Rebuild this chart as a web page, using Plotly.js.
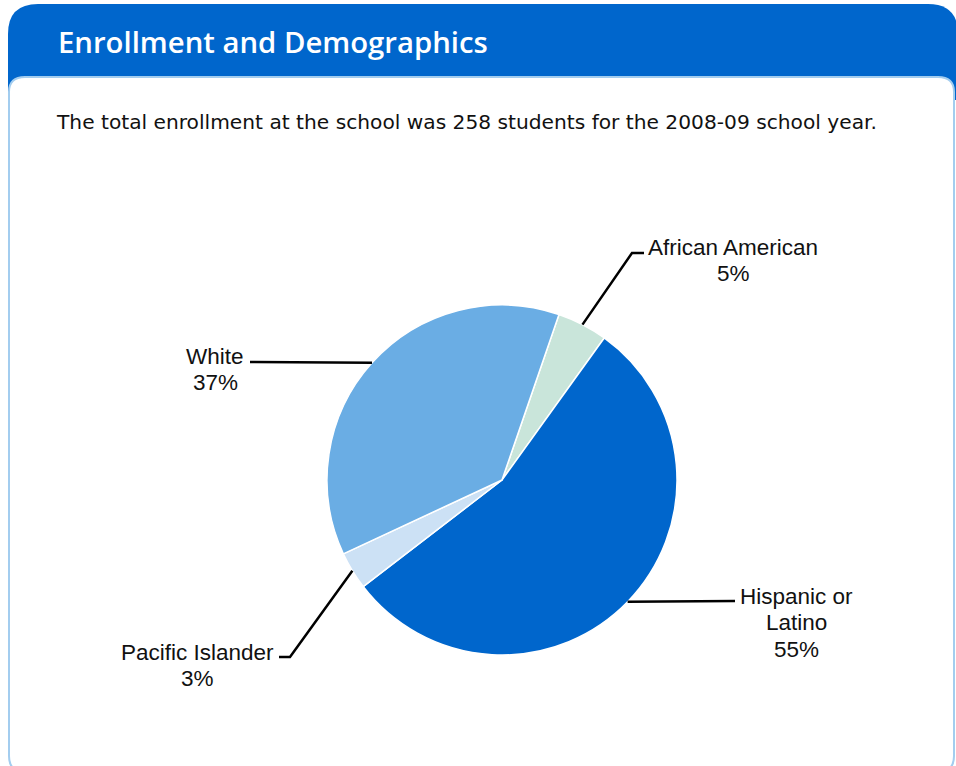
<!DOCTYPE html>
<html>
<head>
<meta charset="utf-8">
<script src="https://cdn.plot.ly/plotly-3.0.1.min.js"></script>
<style>
  html, body { margin: 0; padding: 0; background: #ffffff; }
  #chart { width: 956px; height: 766px; }
</style>
</head>
<body>
<div id="chart"></div>
<script>
// ---- Data ----
const categories = ['African American', 'Hispanic or Latino', 'Pacific Islander', 'White'];
const labelLines = ['African American', 'Hispanic or<br>Latino', 'Pacific Islander', 'White'];
const students = [12, 141, 9, 96];
const sliceColors = ['#C9E5DA', '#0066CC', '#CCE1F5', '#6AADE4'];
const headerText = 'Enrollment and Demographics';
const subtitleText = 'The total enrollment at the school was 258 students for the 2008-09 school year.';

// ---- Layout constants (pixels) ----
const W = 956, H = 766;
const pieCx = 502, pieCy = 480, pieR = 175;
const startRotation = 19;
const lineStep = 26.5;
// first text line centre and leader-line elbow/end for each category
const labelCfg = [
  { cx: 733, y0: 247, elbow: [632, 253], end: [644, 253] },
  { cx: 796, y0: 596, elbow: null, end: [735, 601] },
  { cx: 197, y0: 652, elbow: [290, 657], end: [279, 657] },
  { cx: 215, y0: 356, elbow: null, end: [250, 362] }
];

const px = x => x / W;
const py = y => 1 - y / H;
function pathPx(points, close) {
  return points.map((p, i) => {
    if (p[0] === 'Q') return 'Q' + px(p[1]) + ',' + py(p[2]) + ' ' + px(p[3]) + ',' + py(p[4]);
    return (i === 0 ? 'M' : 'L') + px(p[0]) + ',' + py(p[1]);
  }).join(' ') + (close ? ' Z' : '');
}

const total = students.reduce((a, b) => a + b, 0);

const trace = {
  type: 'pie',
  labels: categories,
  values: students,
  sort: false,
  direction: 'clockwise',
  rotation: startRotation,
  textinfo: 'none',
  hoverinfo: 'label+percent',
  marker: { colors: sliceColors, line: { color: '#ffffff', width: 1.5 } },
  domain: { x: [px(pieCx - pieR), px(pieCx + pieR)], y: [py(pieCy + pieR), py(pieCy - pieR)] },
  showlegend: false
};

const shapes = [];
// header bar
shapes.push({
  type: 'path', xref: 'paper', yref: 'paper', layer: 'below',
  path: pathPx([[8, 100], [8, 34], ['Q', 8, 4, 38, 4], [928, 4], ['Q', 958, 4, 958, 34], [958, 100]], true),
  fillcolor: '#0066CC', line: { width: 0 }
});
// content box
shapes.push({
  type: 'path', xref: 'paper', yref: 'paper', layer: 'below',
  path: pathPx([[9, 756], [9, 92], ['Q', 9, 77, 25, 77], [938, 77], ['Q', 954, 77, 954, 92], [954, 756], ['Q', 954, 772, 938, 772], [25, 772], ['Q', 9, 772, 9, 756]], true),
  fillcolor: '#ffffff', line: { color: '#A3CDEF', width: 2 }
});

const annotations = [];
annotations.push({
  xref: 'paper', yref: 'paper', x: px(56), y: py(42), xanchor: 'left', yanchor: 'middle',
  text: headerText, showarrow: false,
  font: { family: 'Open Sans, sans-serif', size: 29.3, color: '#ffffff', weight: 600 }
});
annotations.push({
  xref: 'paper', yref: 'paper', x: px(54), y: py(122), xanchor: 'left', yanchor: 'middle',
  text: subtitleText, showarrow: false,
  font: { family: 'DejaVu Sans, sans-serif', size: 20.2, color: '#111111' }
});

let cum = 0;
students.forEach((v, i) => {
  const midDeg = startRotation + 360 * (cum + v / 2) / total;
  cum += v;
  const a = midDeg * Math.PI / 180;
  const sx = pieCx + pieR * Math.sin(a);
  const sy = pieCy - pieR * Math.cos(a);
  const cfg = labelCfg[i];
  const pts = [[sx, sy]];
  if (cfg.elbow) pts.push(cfg.elbow);
  pts.push(cfg.end);
  shapes.push({
    type: 'path', xref: 'paper', yref: 'paper',
    path: pathPx(pts, false),
    line: { color: '#000000', width: 2.5 }
  });
  const pct = Math.round(v / total * 100) + '%';
  const lines = labelLines[i].split('<br>').concat([pct]);
  lines.forEach((t, k) => {
    annotations.push({
      xref: 'paper', yref: 'paper', x: px(cfg.cx), y: py(cfg.y0 + k * lineStep),
      xanchor: 'center', yanchor: 'middle',
      text: t, showarrow: false, align: 'center',
      font: { family: 'Liberation Sans, Arial, sans-serif', size: 22.5, color: '#111111' }
    });
  });
});

const layout = {
  width: W, height: H,
  margin: { l: 0, r: 0, t: 0, b: 0, pad: 0 },
  paper_bgcolor: '#ffffff',
  shapes: shapes,
  annotations: annotations
};

Plotly.newPlot('chart', [trace], layout, { displayModeBar: false });
</script>
</body>
</html>
